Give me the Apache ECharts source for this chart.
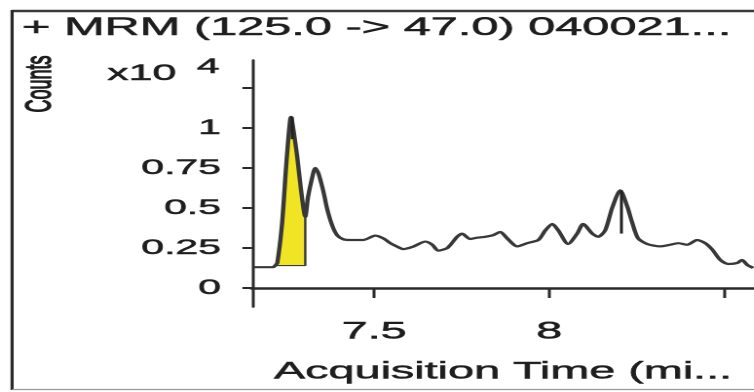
<!DOCTYPE html>
<html>
<head>
<meta charset="utf-8">
<title>MRM chromatogram</title>
<script src="https://cdn.jsdelivr.net/npm/echarts@6/dist/echarts.min.js"></script>
<style>
    html, body { margin: 0; padding: 0; background: #fff; overflow: hidden; }
    /* the source picture is stretched sideways, so the chart is drawn narrow and widened */
    #chart { width: 387px; height: 392px; transform: scaleX(1.948); transform-origin: 0 0; }
</style>
</head>
<body>
<div id="chart"></div>
<script>
// Acquisition time (min) and counts (x10^4)
const timeMin = [
    7.155, 7.169, 7.211, 7.217, 7.223, 7.237, 7.246, 7.254, 7.262, 7.269,
    7.280, 7.291, 7.303, 7.311, 7.326, 7.331, 7.340, 7.354, 7.366, 7.380,
    7.394, 7.411, 7.431, 7.450, 7.469, 7.503, 7.526, 7.546, 7.566, 7.583,
    7.611, 7.646, 7.666, 7.683, 7.709, 7.737, 7.751, 7.774, 7.794, 7.817,
    7.840, 7.860, 7.880, 7.909, 7.937, 7.969, 7.989, 8.009, 8.026, 8.054,
    8.080, 8.097, 8.123, 8.140, 8.160, 8.180, 8.203, 8.223, 8.237, 8.254,
    8.280, 8.317, 8.346, 8.369, 8.394, 8.423, 8.446, 8.466, 8.489, 8.511,
    8.537, 8.551, 8.566, 8.583
];
const countsE4 = [
    0.13, 0.13, 0.13, 0.14, 0.156, 0.41, 0.69, 0.92, 1.07, 0.99,
    0.82, 0.61, 0.445, 0.57, 0.72, 0.75, 0.72, 0.61, 0.49, 0.39,
    0.33, 0.305, 0.30, 0.30, 0.30, 0.327, 0.31, 0.28, 0.258, 0.243,
    0.258, 0.29, 0.27, 0.233, 0.25, 0.32, 0.34, 0.306, 0.314, 0.32,
    0.33, 0.35, 0.31, 0.26, 0.28, 0.30, 0.36, 0.40, 0.36, 0.275,
    0.34, 0.40, 0.34, 0.32, 0.36, 0.50, 0.61, 0.51, 0.41, 0.31,
    0.275, 0.26, 0.27, 0.28, 0.27, 0.30, 0.28, 0.24, 0.175, 0.15,
    0.156, 0.175, 0.144, 0.125
];

// integrated peak (yellow) and apex markers
const peakStart = 7.217;
const peakEnd = 7.303;
const peakBase = 0.14;
const apexTime = [7.262, 8.203];
const apexTop = [1.07, 0.61];
const apexBottom = [0.93, 0.34];

// ticks
const xTicks = [7.5, 8, 8.5];
const xLabels = [7.5, 8];
const yTicks = [0, 0.25, 0.5, 0.75, 1, 1.25];
const yLabels = [0, 0.25, 0.5, 0.75, 1];

const titleText = '+ MRM (125.0 -> 47.0) 040021...';
const xName = 'Acquisition Time (mi...';
const yName = 'Counts';

const font = '"Liberation Sans", Arial, sans-serif';
const ink = '#1e1e1e';
// the scan is blurry and its text reads heavier than a plain regular face
const heavy = { textBorderColor: ink, textBorderWidth: 0.5 };

const trace = timeMin.map((t, i) => [t, countsE4[i]]);
const peak = trace.filter(p => p[0] >= peakStart && p[0] <= peakEnd);
peak.push([peakEnd, peakBase], [peakStart, peakBase]);

const chart = echarts.init(document.getElementById('chart'), null, { renderer: 'canvas', devicePixelRatio: 2 });

chart.setOption({
    animation: false,
    backgroundColor: '#fff',
    grid: { left: 129.4, right: 0, top: 60, bottom: 85 },
    xAxis: {
        type: 'value',
        min: 7.151,
        max: 8.585,
        name: xName,
        nameLocation: 'middle',
        nameGap: 53,
        nameTextStyle: { color: ink, fontFamily: font, fontSize: 24, ...heavy },
        axisLine: { lineStyle: { color: '#2a2a2a', width: 2.5 } },
        axisTick: { customValues: xTicks, length: 10, lineStyle: { color: '#2a2a2a', width: 1.5 } },
        axisLabel: {
            customValues: xLabels,
            margin: 13,
            color: ink,
            fontFamily: font,
            fontSize: 24,
            ...heavy,
            formatter: v => String(v)
        },
        splitLine: { show: false }
    },
    yAxis: {
        type: 'value',
        min: -0.119,
        max: 1.425,
        axisLine: { show: true, lineStyle: { color: '#2a2a2a', width: 1.5 } },
        axisTick: { show: true, customValues: yTicks, length: 5, lineStyle: { color: '#2a2a2a', width: 2 } },
        axisLabel: {
            customValues: yLabels,
            margin: 16,
            color: ink,
            fontFamily: font,
            fontSize: 21,
            ...heavy,
            formatter: v => String(v)
        },
        splitLine: { show: false }
    },
    series: [
        {
            name: 'Peak area',
            type: 'line',
            data: peak,
            symbol: 'none',
            z: 1,
            lineStyle: { color: '#3a3a3a', width: 1.2 },
            areaStyle: { color: '#f0e424', opacity: 1, origin: peakBase }
        },
        {
            name: 'Trace',
            type: 'line',
            data: trace,
            symbol: 'none',
            smooth: 0.25,
            z: 2,
            lineStyle: { color: '#383838', width: 2.2 },
            markLine: {
                silent: true,
                symbol: 'none',
                label: { show: false },
                lineStyle: { color: '#222', width: 1.5, type: 'solid' },
                data: apexTime.map((t, i) => [
                    { coord: [t, apexTop[i]] },
                    { coord: [t, apexBottom[i]] }
                ])
            }
        }
    ],
    graphic: [
        { type: 'line', shape: { x1: 6.2, y1: 11, x2: 400, y2: 11 }, style: { stroke: '#3a3a3a', lineWidth: 2.5 } },
        { type: 'line', shape: { x1: 6.2, y1: 10, x2: 6.2, y2: 390 }, style: { stroke: '#2a2a2a', lineWidth: 1.6 } },
        { type: 'line', shape: { x1: 6.2, y1: 389.5, x2: 400, y2: 389.5 }, style: { stroke: '#9a9a9a', lineWidth: 1.2 } },
        {
            type: 'text', x: 11.3, y: 28,
            style: {
                text: titleText, font: '25px ' + font, fill: ink, stroke: ink, lineWidth: 0.5,
                verticalAlign: 'middle', textVerticalAlign: 'middle'
            }
        },
        {
            type: 'text', x: 21, y: 84, rotation: Math.PI / 2,
            style: {
                text: yName, font: '18px ' + font, fill: ink, stroke: ink, lineWidth: 0.8,
                align: 'center', textAlign: 'center', verticalAlign: 'middle', textVerticalAlign: 'middle'
            }
        },
        {
            type: 'text', x: 55, y: 74,
            style: { text: 'x10', font: '22px ' + font, fill: ink, stroke: ink, lineWidth: 0.5, verticalAlign: 'middle', textVerticalAlign: 'middle' }
        },
        {
            type: 'text', x: 101, y: 67,
            style: { text: '4', font: '21px ' + font, fill: ink, stroke: ink, lineWidth: 0.5, verticalAlign: 'middle', textVerticalAlign: 'middle' }
        }
    ]
});
</script>
</body>
</html>
